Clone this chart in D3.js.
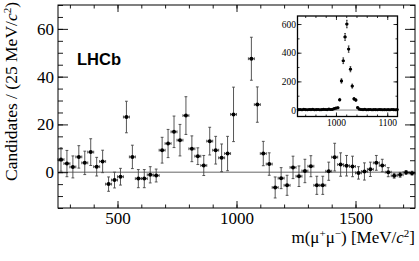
<!DOCTYPE html>
<html><head><meta charset="utf-8">
<script src="https://cdn.jsdelivr.net/npm/d3@7"></script>
<style>body{margin:0;background:#fff;overflow:hidden}</style>
</head><body>
<svg id="c" width="419" height="261"></svg>
<script>
// ---- main histogram data (25 MeV bins from 250 to 1750) ----
const binLow = 250, binWidth = 25, nBins = 60;
const counts = [5.3,3.6,2.2,6.4,3.9,8.4,2.3,4.5,-5.0,-3.3,
  -1.9,23.1,6.4,-2.7,-2.7,-1.1,-1.4,9.2,12.0,16.9,
  13.4,23.7,9.8,6.7,2.8,13.0,9.2,6.0,7.8,24.2,
  null,null,47.5,28.3,7.8,3.4,-6.4,-2.5,-5.5,2.0,
  -1.7,0.5,2.5,-5.5,-5.5,0.4,6.3,3.2,2.7,2.4,
  -0.3,0.3,1.2,3.9,2.8,0.0,-1.5,-1.1,-0.1,-0.4];
const errs = [4.9,5.5,4.6,4.7,4.9,5.6,3.9,4.7,3.0,3.3,
  3.5,6.6,4.9,3.8,3.8,3.4,2.7,5.4,5.9,6.6,
  6.6,7.9,5.4,3.5,4.2,5.8,5.8,5.8,7.2,11.4,
  null,null,9.0,7.4,5.1,4.7,4.4,4.4,4.2,4.7,
  4.3,4.9,4.4,3.8,3.8,3.8,5.8,4.9,4.3,4.3,
  2.6,3.6,3.0,3.1,2.6,1.9,1.0,1.0,0.8,0.8];
const xMajor = [500,1000,1500];
const yMajor = [0,20,40,60];

// ---- inset data (phi region, 3.5 MeV bins from 925 to 1120) ----
const inLow = 925, inWidth = 3.5;
const inCounts = [3,4,2,5,3,2,4,3,5,2, 3,4,2,3,5,4,3,6,4,5,
  10,14,16,72,203,344,510,600,425,285, 167,78,70,17,6,4,3,5,2,3,
  4,2,3,3,2,4,3,2,3,2, 3,2,4,3,2,3];
const inErrs = [3,3,3,3,3,3,3,3,3,3, 3,3,3,3,3,3,3,3,3,4,
  5,5,6,9,15,20,24,26,22,18, 14,9,9,5,3,3,3,3,3,3,
  3,3,3,3,3,3,3,3,3,3, 3,3,3,3,3,3];
const inXMajor = [1000,1100];
const inYMajor = [0,200,400,600];

const svg = d3.select("#c");
const serif = "'Liberation Serif','Times New Roman',serif";
const fmt = d3.format("d");

const M = {l:58, r:415, t:5, b:208};
const x = d3.scaleLinear().domain([250,1750]).range([M.l, M.r]);
const y = d3.scaleLinear().domain([-15,70]).range([M.b, M.t]);

function axes(g, xs, ys, opt){
  const [x0,x1] = xs.range(), [y1,y0] = ys.range();
  const W = x1-x0, H = y1-y0;
  const mk = (ax, tr) => g.append("g").attr("transform", tr).call(ax)
      .call(s => s.select(".domain").remove())
      .call(s => s.selectAll("line").attr("stroke","#000").attr("stroke-width",opt.tw));
  // minor
  mk(d3.axisBottom(xs).tickValues(opt.xMinor).tickFormat("").tickSize(-opt.xmin), `translate(0,${y1})`);
  mk(d3.axisTop(xs).tickValues(opt.xMinor).tickFormat("").tickSize(-opt.xmin), `translate(0,${y0})`);
  mk(d3.axisLeft(ys).tickValues(opt.yMinor).tickFormat("").tickSize(-opt.ymin), `translate(${x0},0)`);
  mk(d3.axisRight(ys).tickValues(opt.yMinor).tickFormat("").tickSize(-opt.ymin), `translate(${x1},0)`);
  // major
  const bx = mk(d3.axisBottom(xs).tickValues(opt.xMajor).tickFormat(fmt).tickSize(-opt.xmaj).tickPadding(opt.xpad), `translate(0,${y1})`);
  mk(d3.axisTop(xs).tickValues(opt.xMajor).tickFormat("").tickSize(-opt.xmaj), `translate(0,${y0})`);
  const ly = mk(d3.axisLeft(ys).tickValues(opt.yMajor).tickFormat(fmt).tickSize(-opt.ymaj).tickPadding(opt.ypad), `translate(${x0},0)`);
  mk(d3.axisRight(ys).tickValues(opt.yMajor).tickFormat("").tickSize(-opt.ymaj), `translate(${x1},0)`);
  [bx, ly].forEach(s => s.selectAll("text").attr("font-family", serif)
      .attr("font-size", opt.fs).attr("fill","#000"));
  g.append("rect").attr("x",x0).attr("y",y0).attr("width",W).attr("height",H)
    .attr("fill","none").attr("stroke","#000").attr("stroke-width",opt.fw);
}

function points(g, xs, ys, lo, w, vals, es, r, col, cap){
  const data = vals.map((v,i)=>({c: lo + w*(i+0.5), v, e: es[i]})).filter(d=>d.v!==null);
  const pg = g.append("g").attr("stroke", col).attr("stroke-width", 0.9).attr("fill","none");
  data.forEach(d=>{
    const cx = xs(d.c), cy = ys(d.v);
    const xl = xs(d.c - w/2), xr = xs(d.c + w/2);
    const yt = ys(d.v + d.e), yb = ys(d.v - d.e);
    pg.append("line").attr("x1",cx).attr("x2",cx).attr("y1",yt).attr("y2",yb);
    pg.append("line").attr("x1",xl).attr("x2",xr).attr("y1",cy).attr("y2",cy);
    if (cap){
      pg.append("line").attr("x1",cx-cap).attr("x2",cx+cap).attr("y1",yt).attr("y2",yt);
      pg.append("line").attr("x1",cx-cap).attr("x2",cx+cap).attr("y1",yb).attr("y2",yb);
      pg.append("line").attr("x1",xl).attr("x2",xl).attr("y1",cy-cap).attr("y2",cy+cap);
      pg.append("line").attr("x1",xr).attr("x2",xr).attr("y1",cy-cap).attr("y2",cy+cap);
    }
  });
  g.append("g").selectAll("circle").data(data).join("circle")
    .attr("cx", d=>xs(d.c)).attr("cy", d=>ys(d.v)).attr("r", r).attr("fill","#000");
}

// ---- main plot ----
const main = svg.append("g");
main.append("line").attr("x1",M.l).attr("x2",M.r).attr("y1",y(0)).attr("y2",y(0))
  .attr("stroke","#666").attr("stroke-width",1);
points(main, x, y, binLow, binWidth, counts, errs, 2, "#444", 1.4);
axes(main, x, y, {
  xMinor: d3.range(300,1750,100), yMinor: d3.range(-15,71,5),
  xMajor, yMajor, xmin:3.5, xmaj:7, ymin:5, ymaj:10, xpad:3.5, ypad:4,
  fs:"17px", tw:0.9, fw:1
});

// ---- inset ----
const I = {l:297.5, r:397.5, t:16, b:116.5};
const ix = d3.scaleLinear().domain([925,1120]).range([I.l, I.r]);
const iy = d3.scaleLinear().domain([-45,656]).range([I.b, I.t]);
const ins = svg.append("g");
ins.append("rect").attr("x",I.l).attr("y",I.t).attr("width",I.r-I.l).attr("height",I.b-I.t).attr("fill","#fff");
ins.append("line").attr("x1",I.l).attr("x2",I.r).attr("y1",iy(0)).attr("y2",iy(0))
  .attr("stroke","#666").attr("stroke-width",0.8);
points(ins, ix, iy, inLow, inWidth, inCounts, inErrs, 1.6, "#333", 0.8);
axes(ins, ix, iy, {
  xMinor: d3.range(940,1120,20), yMinor: d3.range(-0,656,100),
  xMajor: inXMajor, yMajor: inYMajor, xmin:2, xmaj:4, ymin:2, ymaj:4, xpad:3, ypad:1.5,
  fs:"9.5px", tw:0.8, fw:1.3
});

// ---- labels ----
svg.append("text").attr("x",77).attr("y",65).attr("font-family","'Liberation Sans',Arial,sans-serif")
  .attr("font-weight","bold").attr("font-size","16.5px").text("LHCb");

const yt = svg.append("text").attr("transform","translate(17,2) rotate(-90)")
  .attr("text-anchor","end").attr("font-family",serif).attr("font-size","17.5px");
yt.append("tspan").text("Candidates / (25 MeV/");
yt.append("tspan").attr("font-style","italic").text("c");
yt.append("tspan").attr("font-size","11px").attr("dy",-6).text("2");
yt.append("tspan").attr("dy",6).text(")");

const xt = svg.append("text").attr("x",415).attr("y",243).attr("text-anchor","end")
  .attr("font-family",serif).attr("font-size","17px");
xt.append("tspan").text("m(μ");
xt.append("tspan").attr("font-size","11px").attr("dy",-6).text("+");
xt.append("tspan").attr("dy",6).text("μ");
xt.append("tspan").attr("font-size","11px").attr("dy",-6).text("−");
xt.append("tspan").attr("dy",6).text(") [MeV/");
xt.append("tspan").attr("font-style","italic").text("c");
xt.append("tspan").attr("font-size","11px").attr("dy",-6).text("2");
xt.append("tspan").attr("dy",6).text("]");
</script>
</body></html>
